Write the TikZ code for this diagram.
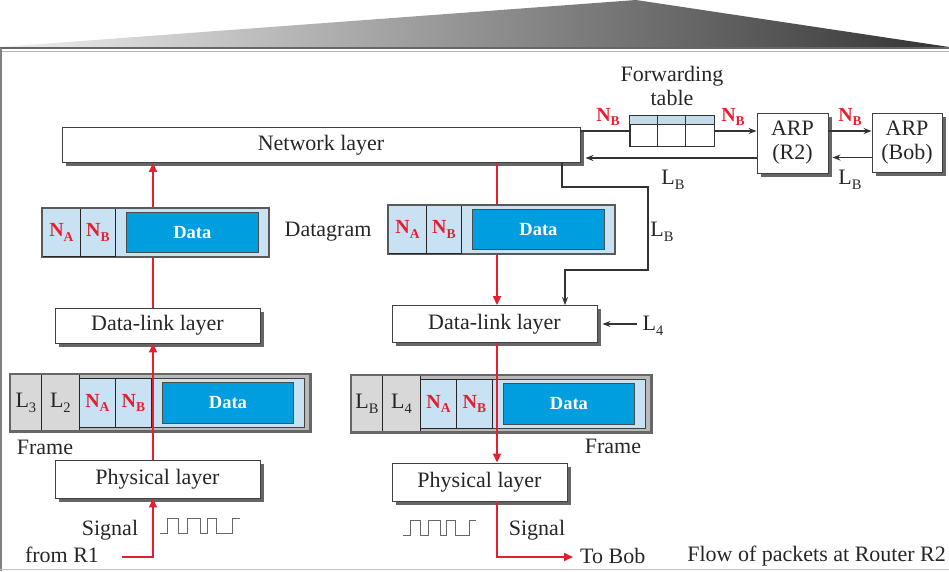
\documentclass[tikz,border=0pt]{standalone}
\usepackage{fontspec}
\setmainfont{Liberation Serif}
\usetikzlibrary{arrows.meta,shadows,calc}
\definecolor{myred}{RGB}{228,32,48}
\definecolor{ltblue}{RGB}{200,226,244}
\definecolor{datablue}{RGB}{0,158,222}
\definecolor{ltgray}{RGB}{216,216,216}
\definecolor{frgray}{RGB}{185,185,185}
\definecolor{tabband}{RGB}{196,220,232}
\newcommand\fsM{\fontsize{22}{24}\selectfont}
\newcommand\fsN{\fontsize{20}{22}\selectfont\bfseries}
\newcommand\fsD{\fontsize{18.5}{20}\selectfont\bfseries}
\newcommand\Nx[1]{N\raisebox{-0.45ex}{\fontsize{13.5}{13.5}\selectfont #1}}
\newcommand\Lx[1]{L\raisebox{-0.45ex}{\fontsize{14.5}{14.5}\selectfont #1}}
\tikzset{
  layerbox/.style={draw=black!75, fill=white, line width=0.9pt, inner sep=0pt, font=\fsM, text=black!85,
    drop shadow={shadow xshift=3.5pt,shadow yshift=-3.5pt,fill=black!60,opacity=1}},
  txt/.style={font=\fsM, text=black!85, inner sep=1pt},
  redlbl/.style={font=\fsN, text=myred, inner sep=1pt},
  conn/.style={draw=black!80, line width=1.1pt},
  carrow/.style={conn, -{Stealth[length=8pt,width=6pt]}},
  rline/.style={draw=myred, line width=1.8pt},
  rarrow/.style={rline, -{Triangle[length=9pt,width=8pt]}},
  dgout/.style={draw=black!65, line width=1.4pt, fill=ltblue, minimum width=226pt, minimum height=48pt, inner sep=0pt},
  ncell/.style={draw=black!85, line width=0.8pt, fill=ltblue, minimum height=48pt, inner sep=0pt, text=myred, font=\fsN},
  databox/.style={draw=black!70, line width=0.8pt, fill=datablue, minimum width=132pt, minimum height=40pt, inner sep=0pt, text=white, font=\fsD},
  frout/.style={fill=frgray, draw=none, minimum width=300pt, minimum height=57pt, inner sep=0pt},
  lcell/.style={draw=black!85, line width=0.8pt, fill=ltgray, minimum height=57pt, inner sep=0pt, font=\fsM, text=black!85},
  fnreg/.style={draw=black!75, line width=0.9pt, fill=ltblue, minimum width=225pt, minimum height=49pt, inner sep=0pt},
  fncell/.style={draw=black!85, line width=0.8pt, fill=ltblue, minimum width=36pt, minimum height=49pt, inner sep=0pt, text=myred, font=\fsN},
  fdata/.style={draw=black!70, line width=0.8pt, fill=datablue, minimum width=131pt, minimum height=41pt, inner sep=0pt, text=white, font=\fsD},
  wave/.style={draw=black!60, line width=1pt}
}
\newcommand\mydgram[3]{%
  \node[dgout, anchor=north west] (#1) at (#2,#3) {};
  \node[ncell, anchor=north west, minimum width=38pt] (#1a) at (#2,#3) {\Nx{A}};
  \node[ncell, anchor=north west, minimum width=35pt] (#1b) at ($(#2,#3)+(38,0)$) {\Nx{B}};
  \node[databox, anchor=north west] (#1d) at ($(#2,#3)+(84,4)$) {Data};
  \draw[draw=black!65, line width=1.4pt] (#1.north west) rectangle (#1.south east);
}
\newcommand\myframe[5]{%
  \node[frout, anchor=north west] (#1) at (#2,#3) {};
  \node[lcell, anchor=north west, minimum width=31pt] (#1p) at (#2,#3) {\Lx{#4}};
  \node[lcell, anchor=north west, minimum width=38pt] (#1q) at ($(#2,#3)+(31,0)$) {\Lx{#5}};
  \node[fnreg, anchor=north west] (#1r) at ($(#2,#3)+(69,4)$) {};
  \node[fncell, anchor=north west] (#1a) at ($(#2,#3)+(69,4)$) {\Nx{A}};
  \node[fncell, anchor=north west] (#1b) at ($(#2,#3)+(105,4)$) {\Nx{B}};
  \node[fdata, anchor=north west] (#1d) at ($(#2,#3)+(152,8)$) {Data};
  \draw[draw=black!60, line width=2.4pt] (#1.north west) rectangle (#1.south east);
}
\begin{document}
\begin{tikzpicture}[x=1pt,y=-1pt]
\useasboundingbox (0,0) rectangle (949,571);
% banner and frame
\shade[left color=gray!12, right color=black!80] (0,47) -- (636,0) -- (949,47) -- cycle;
\draw[black!60, line width=2pt] (0,48) -- (949,48);
\draw[black!30, line width=1pt] (0,51) -- (949,51);
\draw[black!50, line width=2pt] (1,48) -- (1,571);
\draw[black!25, line width=1pt] (0,569) -- (949,569);

% layer boxes
\node[layerbox, minimum width=518pt, minimum height=35pt] (net) at (321,145) {Network layer};
\node[layerbox, minimum width=205pt, minimum height=35pt] (dlL) at (157.5,325.5) {Data-link layer};
\node[layerbox, minimum width=205pt, minimum height=37pt] (dlR) at (494.5,324) {Data-link layer};
\node[layerbox, minimum width=205pt, minimum height=38pt] (phL) at (157.5,479) {Physical layer};
\node[layerbox, minimum width=175pt, minimum height=38pt] (phR) at (479.5,482) {Physical layer};
\node[layerbox, minimum width=71pt, minimum height=60pt, align=center] (arpR) at (792.5,143) {ARP\\(R2)};
\node[layerbox, minimum width=70pt, minimum height=59pt, align=center] (arpB) at (907,142.5) {ARP\\(Bob)};

% forwarding table
\node[txt, align=center] (fwdtxt) at (672,86) {Forwarding\\table};
\node[draw=black!80, fill=white, line width=0.9pt, minimum width=84pt, minimum height=30pt, inner sep=0pt] (ft) at (672,131) {};
\fill[tabband] (ft.north west) rectangle ([yshift=-9pt]ft.north east);
\draw[black!80, line width=0.9pt] ([yshift=-9pt]ft.north west) -- ([yshift=-9pt]ft.north east);
\draw[black!80, line width=0.9pt] ([xshift=28pt]ft.north west) -- ([xshift=28pt]ft.south west);
\draw[black!80, line width=0.9pt] ([xshift=56pt]ft.north west) -- ([xshift=56pt]ft.south west);
\draw[black!80, line width=0.9pt] (ft.north west) rectangle (ft.south east);

% frames
\myframe{frL}{10}{374}{3}{2}
\myframe{frR}{351}{375}{B}{4}

% ARP / forwarding connectors
\draw[conn] (net.east |- ft.west) -- (ft.west);
\draw[carrow] (ft.east) -- (ft.east -| arpR.west);
\draw[carrow] (arpR.east |- ft.east) -- (arpB.west |- ft.east);
\coordinate (lbBob) at ([yshift=-15pt]arpB.west);
\coordinate (arpRe) at ([xshift=4pt]arpR.east);
\draw[carrow] (lbBob) -- (lbBob -| arpRe);
\coordinate (lbR2) at ([yshift=-15pt]arpR.west);
\coordinate (netE) at ([xshift=5pt]net.east);
\draw[carrow] (lbR2) -- (lbR2 -| netE);
\node[redlbl] (nb1) at (608,117) {\Nx{B}};
\node[redlbl] (nb2) at (733,117) {\Nx{B}};
\node[redlbl] (nb3) at (850,117) {\Nx{B}};
\node[txt] (lb1) at (673,180) {\Lx{B}};
\node[txt] (lb2) at (850,180) {\Lx{B}};

% L_B path down to data-link layer
\coordinate (lbA) at (562,187);
\coordinate (lbB) at (648,270);
\coordinate (lbC) at ([xshift=70.5pt]dlR.north);
\draw[carrow] (net.south -| lbA) |- (lbB |- lbA) -- (lbB) -| (lbC);
\node[txt] (lb3) at (662,232) {\Lx{B}};

% L_4
\coordinate (l4s) at (637,324);
\coordinate (dlRe) at ([xshift=5pt]dlR.east);
\draw[carrow] (l4s) -- (l4s -| dlRe);
\node[txt] (l4) at (653,326) {\Lx{4}};

% red flow left
\coordinate (fromR1) at (122,557);
\coordinate (rl) at (153,557);
\draw[rarrow] (fromR1) -- (rl) -- (rl |- phL.south);
\draw[rarrow] (rl |- phL.north) -- (rl |- dlL.south);
\draw[rarrow] (rl |- dlL.north) -- (rl |- net.south);
% red flow right
\coordinate (rr) at (497,557);
\coordinate (tobob) at (573,557);
\draw[rarrow] (rr |- net.south) -- (rr |- dlR.north);
\draw[rarrow] (rr |- dlR.south) -- (rr |- phR.north);
\draw[rarrow] (rr |- phR.south) -- (rr) -- (tobob);

% datagrams
\mydgram{dgL}{42}{208}
\mydgram{dgR}{388}{205}

% texts
\node[txt] (dgtxt) at (328,232) {Datagram};
\node[txt] (frtxtL) at (45,447) {Frame};
\node[txt] (frtxtR) at (613,446) {Frame};
\node[txt] (sigL) at (110,530) {Signal};
\node[txt] (fromtxt) at (62,555) {from R1};
\node[txt] (sigR) at (537,530) {Signal};
\node[txt, anchor=west] (tobobtxt) at (579,556) {To Bob};
\node[txt, anchor=east] (flow) at (947,556) {Flow of packets at Router R2};

% signal waves
\draw[wave] (160,533) -- ++(7,0) -- ++(0,-15) -- ++(11,0) -- ++(0,15) -- ++(9,0) -- ++(0,-15) -- ++(13,0) -- ++(0,15) -- ++(7,0) -- ++(0,-15) -- ++(9,0) -- ++(0,15) -- ++(16,0) -- ++(0,-15) -- ++(8,0);
\draw[wave] (403,535) -- ++(7,0) -- ++(0,-15) -- ++(10,0) -- ++(0,15) -- ++(8,0) -- ++(0,-15) -- ++(12,0) -- ++(0,15) -- ++(6,0) -- ++(0,-15) -- ++(9,0) -- ++(0,15) -- ++(14,0) -- ++(0,-15) -- ++(7,0);
\end{tikzpicture}
\end{document}
